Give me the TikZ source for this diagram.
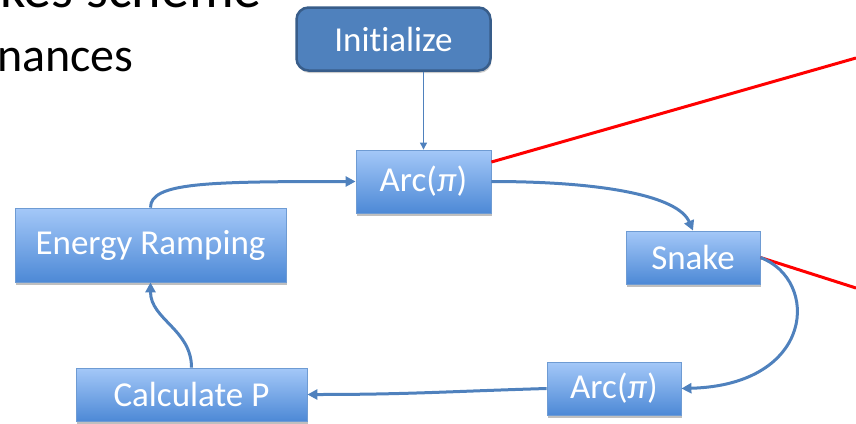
\documentclass[tikz,border=0pt]{standalone}
\usepackage{fontspec}
\setmainfont{Carlito}[Ligatures=CommonOff]
\usepackage{xcolor}
\usepackage{tikz}
\usetikzlibrary{arrows.meta,shadows}
\definecolor{LoopBlue}{HTML}{4F81BD}
\definecolor{LoopEdge}{HTML}{385D8A}
\definecolor{LoopTop}{HTML}{A4C8F8}
\definecolor{LoopBot}{HTML}{4D89D6}
\definecolor{LoopLine}{HTML}{6E9BD3}

\begin{document}
\begin{tikzpicture}[x=1pt,y=-1pt,
  stepbox/.style={draw=LoopLine,line width=0.8pt,top color=LoopTop,bottom color=LoopBot,
    text=white,font=\fontsize{35}{40}\selectfont,inner sep=0pt,
    drop shadow={shadow xshift=1pt,shadow yshift=-2.5pt,opacity=0.25,fill=black}},
  flow/.style={LoopBlue,line width=3pt,-{Triangle[length=10pt,width=10pt]}},
  redline/.style={red,line width=3pt}]
\useasboundingbox (0,0) rectangle (856,423);
\clip (0,0) rectangle (856,423);
% slide title, cut by the crop
\node[anchor=base west,inner sep=0pt,font=\fontsize{56}{60}\selectfont] (headA) at (0,8) {kes scheme};
\node[anchor=base west,inner sep=0pt,font=\fontsize{48}{52}\selectfont] (headB) at (-3,71) {nances};
% boxes
\node[draw=LoopEdge,line width=2.5pt,fill=LoopBlue,rounded corners=12pt,text=white,
  font=\fontsize{35}{40}\selectfont,minimum width=194pt,minimum height=63pt,
  drop shadow={shadow xshift=1pt,shadow yshift=-2.5pt,opacity=0.2,fill=black}] (init) at (393.5,39) {Initialize};
\node[stepbox,minimum width=135pt,minimum height=63pt] (arcA) at (423.5,181.5) {Arc(\textit{π})};
\node[stepbox,minimum width=271pt,minimum height=74pt] (ramp) at (150.5,245) {Energy Ramping};
\node[stepbox,minimum width=134pt,minimum height=53pt] (snake) at (693,257.5) {Snake};
\node[stepbox,minimum width=134pt,minimum height=53pt] (arcB) at (614,388.5) {Arc(\textit{π})};
\node[stepbox,minimum width=231pt,minimum height=53pt] (calc) at (191.5,394.5) {Calculate P};
% red leader lines leaving the crop
\coordinate (redA) at (856,58);
\coordinate (redB) at (856,288);
\draw[redline] (arcA.16) -- (redA);
\draw[redline] (snake.east) -- (redB);
% loop
\draw[LoopBlue,line width=1pt,-{Triangle[length=7pt,width=7pt]}] (arcA.north |- init.south) -- (arcA.north);
\draw[flow] (ramp.north) .. controls +(0,-25) and +(-150,0) .. (arcA.west);
\draw[flow] (arcA.east) .. controls +(110,0) and +(-15,-35) .. (snake.north);
\draw[flow] (snake.east) .. controls (820,280) and (815,385) .. (arcB.east);
\draw[flow] (arcB.west) .. controls +(-100,3) and +(100,0) .. (calc.east);
\draw[flow] (calc.north) .. controls +(0,-38) and +(0,37) .. (ramp.south);
\end{tikzpicture}
\end{document}
